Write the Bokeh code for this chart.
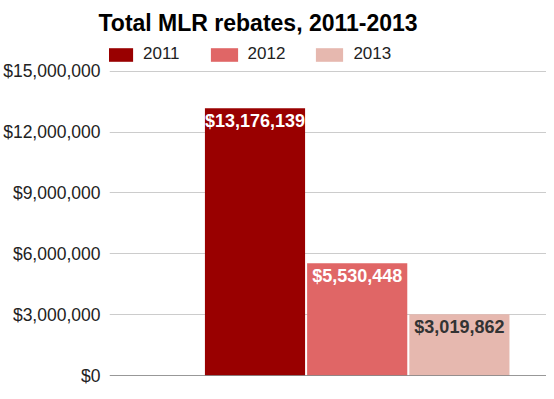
from bokeh.plotting import figure
from bokeh.models import (ColumnDataSource, Range1d, FixedTicker, NumeralTickFormatter,
                          Span, Legend, LegendItem)
from bokeh.core.properties import value
from bokeh.embed import file_html
from bokeh.resources import INLINE

years = ["2011", "2012", "2013"]
rebates = [13176139, 5530448, 3019862]
labels = ["$13,176,139", "$5,530,448", "$3,019,862"]
colors = ["#990000", "#e06666", "#e6b8af"]
label_colors = ["#ffffff", "#ffffff", "#333333"]
y_ticks = [0, 3000000, 6000000, 9000000, 12000000, 15000000]

FONT = "Liberation Sans"

src = ColumnDataSource(dict(x=list(range(len(years))), top=rebates, year=years,
                            color=colors, label=labels, lcolor=label_colors))

# frame extends above the top gridline to leave room for the legend
p = figure(width=546, height=390, output_backend="svg", toolbar_location=None,
           x_range=Range1d(-1.4238, 2.8524), y_range=Range1d(0, 16710000),
           min_border_left=97, min_border_right=0, min_border_top=0, min_border_bottom=15,
           title="Total MLR rebates, 2011-2013")
p.outline_line_color = None
p.background_fill_color = "white"

p.title.text_font = FONT
p.title.text_font_size = "23px"
p.title.text_font_style = "bold"
p.title.text_color = "#000000"
p.title.align = "left"
p.title.offset = -11
p.title.padding = dict(left=0, right=0, top=7, bottom=1)
p.title.standoff = 0

r = p.vbar(x="x", top="top", width=0.98, bottom=0, color="color", line_color=None, source=src)

p.text(x="x", y="top", text="label", text_color="lcolor", text_align="center",
       text_baseline="top", y_offset=3, text_font=value(FONT), text_font_size="18px",
       text_font_style="bold", source=src)

p.add_layout(Span(location=0, dimension="width", line_color="#333333", line_width=1))

p.xaxis.visible = False
p.xgrid.visible = False
p.ygrid.grid_line_color = "#cccccc"
p.yaxis.ticker = FixedTicker(ticks=y_ticks)
p.yaxis.formatter = NumeralTickFormatter(format="$0,0")
p.yaxis.axis_line_color = None
p.yaxis.major_tick_line_color = None
p.yaxis.minor_tick_line_color = None
p.yaxis.major_label_text_font = FONT
p.yaxis.major_label_text_font_size = "17.5px"
p.yaxis.major_label_text_color = "#222222"
p.yaxis.major_label_standoff = 3

items = [LegendItem(label=years[i], renderers=[r], index=i) for i in range(len(years))]
legend = Legend(items=items, orientation="horizontal", location=(-7, 311),
                glyph_width=34, glyph_height=17, label_standoff=7, spacing=27,
                label_height=17, padding=0, margin=0, border_line_color=None,
                background_fill_alpha=0,
                label_text_font=FONT, label_text_font_size="17px", label_text_color="#222222")
p.add_layout(legend, "center")

open("out.html", "w").write(file_html(p, INLINE))
